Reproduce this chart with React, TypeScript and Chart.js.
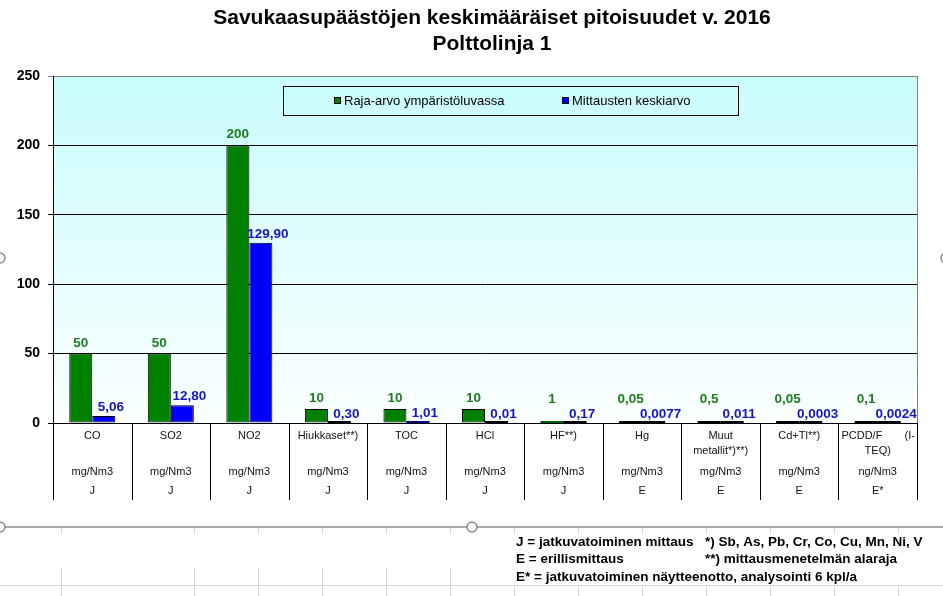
import React, { useEffect, useRef } from "react";
import { Chart, registerables } from "chart.js";
Chart.register(...registerables);

const FONT = "'Liberation Sans', Arial, sans-serif";

const titleLines = ["Savukaasupäästöjen keskimääräiset pitoisuudet v. 2016", "Polttolinja 1"];
const seriesNames = ["Raja-arvo ympäristöluvassa", "Mittausten keskiarvo"];
const categories = ["CO", "SO2", "NO2", "Hiukkaset**)", "TOC", "HCl", "HF**)", "Hg", "Muut|metallit*)**)", "Cd+Tl**)", "PCDD/F\t(I-|TEQ)"];
const units = ["mg/Nm3", "mg/Nm3", "mg/Nm3", "mg/Nm3", "mg/Nm3", "mg/Nm3", "mg/Nm3", "mg/Nm3", "mg/Nm3", "mg/Nm3", "ng/Nm3"];
const methods = ["J", "J", "J", "J", "J", "J", "J", "E", "E", "E", "E*"];
const limitValues = [50, 50, 200, 10, 10, 10, 1, 0.05, 0.5, 0.05, 0.1];
const limitLabels = ["50", "50", "200", "10", "10", "10", "1", "0,05", "0,5", "0,05", "0,1"];
const measuredValues = [5.06, 12.8, 129.9, 0.3, 1.01, 0.01, 0.17, 0.0077, 0.011, 0.0003, 0.0024];
const measuredLabels = ["5,06", "12,80", "129,90", "0,30", "1,01", "0,01", "0,17", "0,0077", "0,011", "0,0003", "0,0024"];
const yMin = 0;
const yMax = 250;
const yStep = 50;
const notesLeft = ["J = jatkuvatoiminen mittaus", "E = erillismittaus", "E* = jatkuvatoiminen näytteenotto, analysointi 6 kpl/a"];
const notesRight = ["*) Sb, As, Pb, Cr, Co, Cu, Mn, Ni, V", "**) mittausmenetelmän alaraja", ""];

const GREEN = "#008000";
const BLUE = "#0000ff";

const decorPlugin = {
  id: "decor",
  beforeDraw(chart: any) {
    const { ctx, chartArea: a } = chart;
    ctx.save();
    ctx.fillStyle = "#ffffff";
    ctx.fillRect(0, 0, chart.width, chart.height);
    const g = ctx.createLinearGradient(0, a.top, 0, a.bottom);
    g.addColorStop(0, "#c9fcfc");
    g.addColorStop(1, "#fbffff");
    ctx.fillStyle = g;
    ctx.fillRect(a.left, a.top, a.right - a.left, a.bottom - a.top);
    ctx.restore();
  },
  afterDatasetsDraw(chart: any) {
    const ctx = chart.ctx;
    const y = chart.scales.y;
    const zeroY = y.getPixelForValue(0);
    ctx.save();
    // very short bars: draw them as a dark sliver on the zero axis like the original
    const dark = ["#005a00", "#000080"];
    [0, 1].forEach((d) => {
      chart.getDatasetMeta(d).data.forEach((bar: any) => {
        const h = zeroY - bar.y;
        if (h < 2) {
          ctx.fillStyle = h < 1 ? "#000000" : dark[d];
          ctx.fillRect(bar.x - bar.width / 2, zeroY - 2, bar.width, 2);
        }
      });
    });
    ctx.font = `bold 13.5px ${FONT}`;
    ctx.textAlign = "center";
    ctx.textBaseline = "alphabetic";
    chart.getDatasetMeta(0).data.forEach((bar: any, i: number) => {
      ctx.fillStyle = "#1e7d1e";
      ctx.fillText(limitLabels[i], bar.x, Math.min(bar.y - 7, zeroY - 20));
    });
    chart.getDatasetMeta(1).data.forEach((bar: any, i: number) => {
      ctx.fillStyle = "#1414c8";
      ctx.fillText(measuredLabels[i], bar.x + 7, bar.y - 5);
    });
    ctx.restore();
  },
  afterDraw(chart: any) {
    const { ctx, chartArea: a } = chart;
    const zeroY = chart.scales.y.getPixelForValue(0);
    const n = categories.length;
    const w = (a.right - a.left) / n;
    const tableBottom = 500;
    ctx.save();

    // plot right border
    ctx.strokeStyle = "#808080";
    ctx.lineWidth = 1;
    ctx.beginPath();
    ctx.moveTo(Math.round(a.right) + 0.5, a.top);
    ctx.lineTo(Math.round(a.right) + 0.5, zeroY);
    ctx.stroke();

    // table separators
    ctx.strokeStyle = "#000000";
    for (let i = 0; i <= n; i++) {
      const x = Math.round(a.left + i * w) + 0.5;
      ctx.beginPath();
      ctx.moveTo(x, zeroY);
      ctx.lineTo(x, tableBottom);
      ctx.stroke();
    }

    // table texts
    ctx.fillStyle = "#111111";
    ctx.font = `11px ${FONT}`;
    ctx.textBaseline = "middle";
    for (let i = 0; i < n; i++) {
      const cx = a.left + (i + 0.5) * w;
      const x0 = a.left + i * w;
      const lines = categories[i].split("|");
      lines.forEach((ln, k) => {
        const ly = 436 + k * 15;
        if (ln.includes("\t")) {
          const [l, r] = ln.split("\t");
          ctx.textAlign = "left";
          ctx.fillText(l, x0 + 3, ly);
          ctx.textAlign = "right";
          ctx.fillText(r, x0 + w - 2, ly);
        } else {
          ctx.textAlign = "center";
          ctx.fillText(ln, cx, ly);
        }
      });
      ctx.textAlign = "center";
      ctx.fillText(units[i], cx, 472);
      ctx.fillText(methods[i], cx, 491);
    }

    // title
    ctx.fillStyle = "#000000";
    ctx.font = `bold 21px ${FONT}`;
    ctx.textAlign = "center";
    ctx.textBaseline = "middle";
    ctx.fillText(titleLines[0], 492, 18);
    ctx.fillText(titleLines[1], 492, 44);

    // legend
    ctx.strokeStyle = "#000000";
    ctx.lineWidth = 1;
    ctx.strokeRect(283.5, 86.5, 455, 29);
    const legendItems = [
      { x: 334, color: GREEN, text: seriesNames[0] },
      { x: 562, color: BLUE, text: seriesNames[1] },
    ];
    ctx.font = `13px ${FONT}`;
    ctx.textAlign = "left";
    legendItems.forEach((it) => {
      ctx.fillStyle = it.color;
      ctx.fillRect(it.x, 97, 7, 7);
      ctx.strokeRect(it.x + 0.5, 97.5, 6, 6);
      ctx.fillStyle = "#000000";
      ctx.fillText(it.text, it.x + 10, 101);
    });

    // chart frame line
    ctx.strokeStyle = "#8c8c8c";
    ctx.lineWidth = 1.5;
    ctx.beginPath();
    ctx.moveTo(0, 527);
    ctx.lineTo(chart.width, 527);
    ctx.stroke();

    // sheet gridlines
    ctx.strokeStyle = "#d6d6d6";
    ctx.lineWidth = 1;
    ctx.beginPath();
    ctx.moveTo(0, 585.5);
    ctx.lineTo(chart.width, 585.5);
    ctx.stroke();
    const cols = [61, 194, 258, 322, 386, 450, 514, 578, 642, 706, 770, 834, 898];
    cols.forEach((cx) => {
      ctx.beginPath();
      ctx.moveTo(cx + 0.5, 528);
      ctx.lineTo(cx + 0.5, 534);
      ctx.moveTo(cx + 0.5, cx < 505 ? 568 : 586);
      ctx.lineTo(cx + 0.5, 596);
      ctx.stroke();
    });

    // selection handles
    ctx.strokeStyle = "#8c8c8c";
    ctx.lineWidth = 1.5;
    ctx.fillStyle = "#ffffff";
    [[0, 258], [946, 258], [0, 527], [472, 527]].forEach(([hx, hy]) => {
      ctx.beginPath();
      ctx.arc(hx, hy, 5, 0, Math.PI * 2);
      ctx.fill();
      ctx.stroke();
    });

    // notes
    ctx.fillStyle = "#000000";
    ctx.font = `bold 13.5px ${FONT}`;
    ctx.textAlign = "left";
    ctx.textBaseline = "middle";
    notesLeft.forEach((t, i) => ctx.fillText(t, 516, 542 + i * 17.5));
    notesRight.forEach((t, i) => ctx.fillText(t, 705, 542 + i * 17.5));

    ctx.restore();
  },
};

export default function App() {
  const ref = useRef<HTMLCanvasElement | null>(null);
  useEffect(() => {
    document.body.style.margin = "0";
    const canvas = ref.current;
    if (!canvas) return;
    const chart = new Chart(canvas, {
      type: "bar",
      data: {
        labels: categories.map((c) => c.replace("|", " ").replace("\t", " ")),
        datasets: [
          {
            label: seriesNames[0],
            data: limitValues,
            backgroundColor: GREEN,
            borderColor: "#000000",
            borderWidth: 1,
            borderSkipped: false,
            categoryPercentage: 0.586,
            barPercentage: 1,
          },
          {
            label: seriesNames[1],
            data: measuredValues,
            backgroundColor: BLUE,
            borderColor: "#000000",
            borderWidth: 1,
            borderSkipped: false,
            categoryPercentage: 0.586,
            barPercentage: 1,
          },
        ],
      },
      options: {
        responsive: false,
        animation: false,
        layout: { padding: { top: 76, bottom: 173, right: 26, left: 0 } },
        plugins: {
          legend: { display: false },
          title: { display: false },
          tooltip: { enabled: false },
        },
        scales: {
          x: { display: false, offset: true, grid: { display: false } },
          y: {
            min: yMin,
            max: yMax,
            ticks: {
              stepSize: yStep,
              color: "#000000",
              padding: 8,
              font: { family: FONT, size: 14, weight: "bold" },
            },
            grid: {
              color: (c: any) => (c.tick && c.tick.value === yMax ? "#808080" : "#000000"),
              tickLength: 5,
              drawTicks: true,
              lineWidth: 1,
            },
            border: { display: true, color: "#000000", width: 1 },
            afterFit: (s: any) => {
              s.width = 53;
            },
          },
        },
      } as any,
      plugins: [decorPlugin],
    });
    return () => chart.destroy();
  }, []);
  return (
    <div style={{ position: "absolute", left: 0, top: 0, width: 943, height: 596 }}>
      <canvas ref={ref} width={943} height={596} style={{ width: 943, height: 596, display: "block" }} />
    </div>
  );
}
